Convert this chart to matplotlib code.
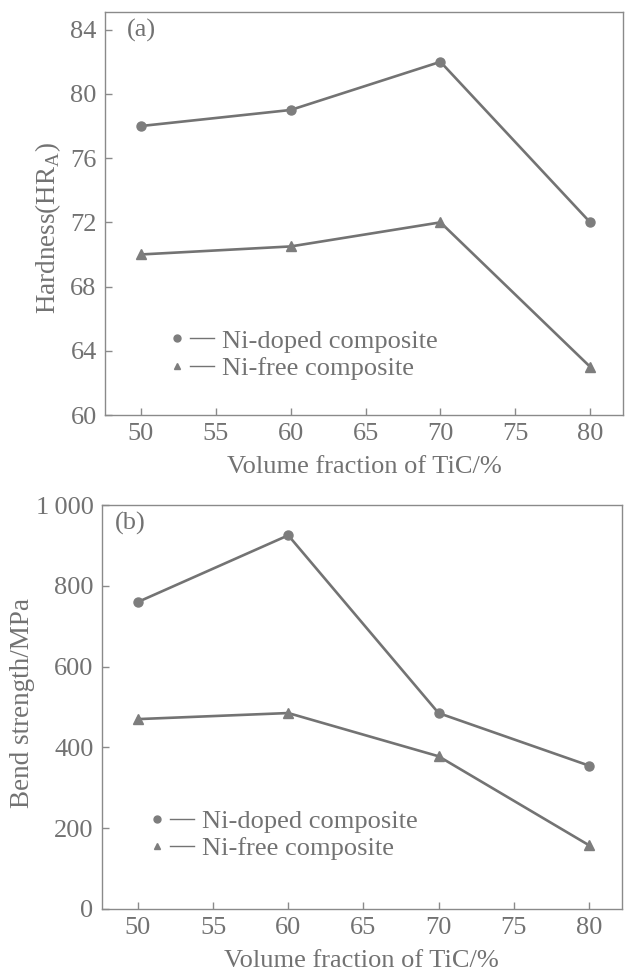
import matplotlib
matplotlib.use("Agg")
import matplotlib.pyplot as plt
from matplotlib.lines import Line2D
from matplotlib.legend_handler import HandlerTuple

# --- datos ---
tic_vol = [50, 60, 70, 80]
dureza_ni = [78, 79, 82, 72]
dureza_sin_ni = [70, 70.5, 72, 63]
flexion_ni = [760, 925, 485, 355]
flexion_sin_ni = [470, 485, 378, 158]

x_ticks = [50, 55, 60, 65, 70, 75, 80]
y_ticks_a = [60, 64, 68, 72, 76, 80, 84]
y_ticks_b = [0, 200, 400, 600, 800, 1000]
y_labels_b = ["0", "200", "400", "600", "800", "1\u2009000"]
nombres = ["Ni-doped composite", "Ni-free composite"]

GRIS_LINEA = "#737373"
GRIS_TEXTO = "#727272"
GRIS_EJE = "#8a8a8a"
FS = 19

plt.rcParams["font.family"] = ["Liberation Serif", "DejaVu Serif"]
plt.rcParams["font.size"] = FS
plt.rcParams["text.color"] = GRIS_TEXTO
plt.rcParams["axes.labelcolor"] = GRIS_TEXTO
plt.rcParams["xtick.color"] = GRIS_EJE
plt.rcParams["ytick.color"] = GRIS_EJE
plt.rcParams["xtick.labelcolor"] = GRIS_TEXTO
plt.rcParams["ytick.labelcolor"] = GRIS_TEXTO
plt.rcParams["mathtext.fontset"] = "custom"
plt.rcParams["mathtext.rm"] = "Liberation Serif"

fig = plt.figure(figsize=(6.25, 9.71), dpi=100)
ax1 = fig.add_axes([0.168, 0.5726, 0.829, 0.415])
ax2 = fig.add_axes([0.163, 0.0639, 0.832, 0.416])


def dibujar(ax, y1, y2, etiqueta, et_x, ley_x, ley_y):
    ax.plot(tic_vol, y1, color=GRIS_LINEA, lw=1.9, marker="o", ms=6.5,
            mfc="#7d7d7d", mec="#7d7d7d")
    ax.plot(tic_vol, y2, color=GRIS_LINEA, lw=1.9, marker="^", ms=6.5,
            mfc="#7d7d7d", mec="#7d7d7d")
    for s in ax.spines.values():
        s.set_color(GRIS_EJE)
        s.set_linewidth(1.0)
    ax.tick_params(direction="in", length=5, width=1.0, labelsize=FS, pad=6)
    ax.set_xlim(47.6, 82.2)
    ax.set_xticks(x_ticks)
    ax.set_xlabel("Volume fraction of TiC/%", fontsize=FS, labelpad=8)
    ax.text(et_x, 0.955, etiqueta, transform=ax.transAxes, fontsize=FS,
            va="center", ha="left")
    # leyenda: marcador, luego la raya
    h = []
    for m in ["o", "^"]:
        mk = Line2D([], [], ls="none", marker=m, ms=5, color="#7d7d7d")
        ln = Line2D([], [], color=GRIS_LINEA, lw=1.0)
        h.append((mk, ln))
    ax.legend(h, nombres, handler_map={tuple: HandlerTuple(ndivide=None, pad=0.05)},
              loc="center left", bbox_to_anchor=(ley_x, ley_y), frameon=False,
              fontsize=FS, handlelength=1.87, handletextpad=0.3, labelspacing=0.15,
              borderpad=0, borderaxespad=0)


dibujar(ax1, dureza_ni, dureza_sin_ni, "(a)", 0.043, 0.115, 0.150)
ax1.set_ylim(60, 85.1)
ax1.set_yticks(y_ticks_a)
ax1.set_ylabel("Hardness(HR$_\\mathrm{A}$)", fontsize=FS + 0.5, labelpad=5)
ax1.yaxis.set_label_coords(-0.081, 0.465)

dibujar(ax2, flexion_ni, flexion_sin_ni, "(b)", 0.025, 0.082, 0.183)
ax2.set_ylim(0, 1000)
ax2.set_yticks(y_ticks_b)
ax2.set_yticklabels(y_labels_b)
ax2.set_ylabel("Bend strength/MPa", fontsize=FS + 0.5, labelpad=5)
ax2.yaxis.set_label_coords(-0.128, 0.51)

fig.savefig("out.png", dpi=100, facecolor="white")
